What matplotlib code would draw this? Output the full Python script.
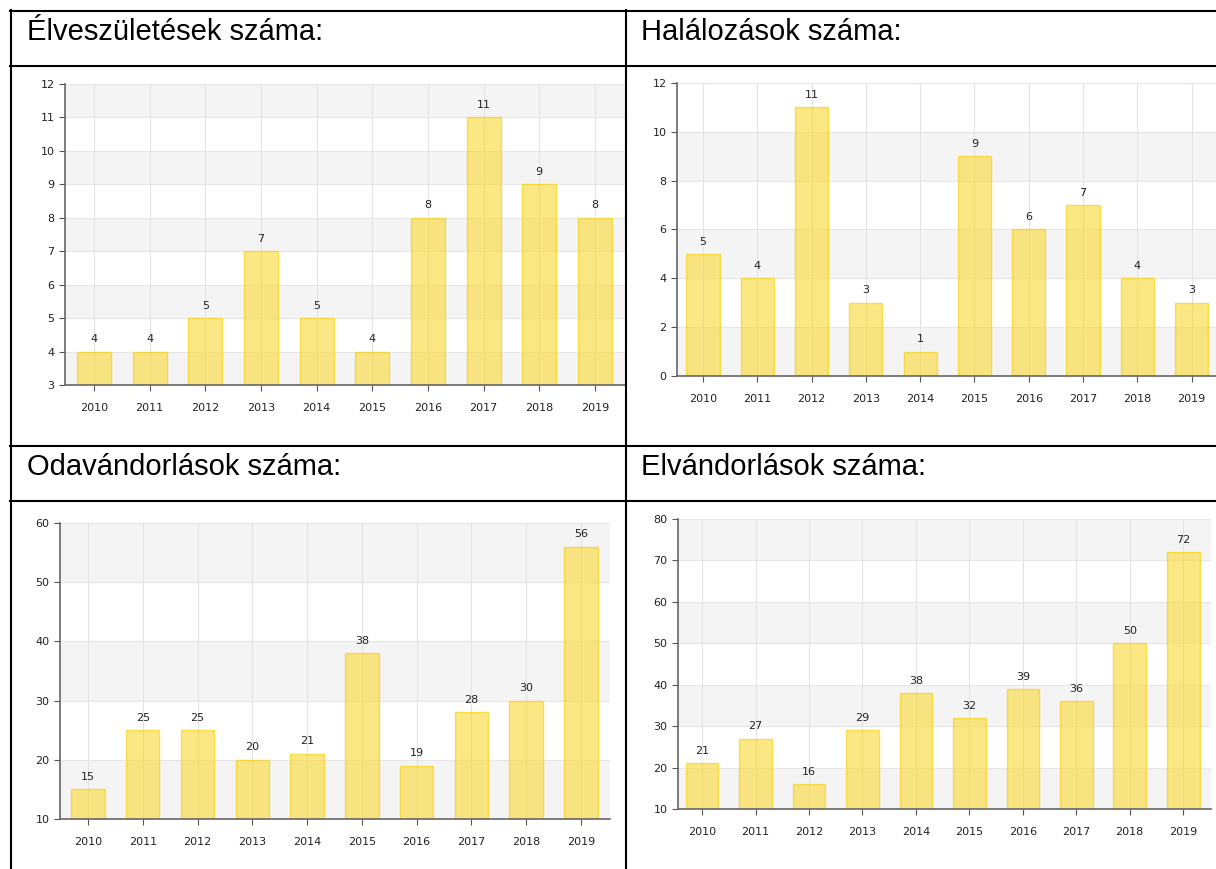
import matplotlib.pyplot as plt
from matplotlib.lines import Line2D

years = ['2010', '2011', '2012', '2013', '2014', '2015', '2016', '2017', '2018', '2019']

births = [4, 4, 5, 7, 5, 4, 8, 11, 9, 8]
deaths = [5, 4, 11, 3, 1, 9, 6, 7, 4, 3]
moved_in = [15, 25, 25, 20, 21, 38, 19, 28, 30, 56]
moved_out = [21, 27, 16, 29, 38, 32, 39, 36, 50, 72]

titles = ['Élveszületések száma:', 'Halálozások száma:',
          'Odavándorlások száma:', 'Elvándorlások száma:']

W, H = 1216, 869
fig = plt.figure(figsize=(W / 100, H / 100), dpi=100)


def px_axes(x0, y0, x1, y1):
    # pixel box (top-left origin) -> figure axes
    return fig.add_axes([x0 / W, 1 - y1 / H, (x1 - x0) / W, (y1 - y0) / H])


def bar_chart(ax, values, ymin, ymax, step, xlim):
    n = len(values)
    # alternating grey bands
    y = ymin
    k = 0
    while y < ymax:
        if k % 2 == 0:
            ax.axhspan(y, y + step, color='#f4f4f4', zorder=0, lw=0)
        ax.axhline(y + step, color='#e6e6e6', lw=0.8, zorder=0.5)
        y += step
        k += 1
    for i in range(n):
        ax.axvline(i, color='#e3e3e3', lw=0.8, zorder=0.6)
    ax.bar(range(n), [v - ymin for v in values], bottom=ymin, width=0.61,
           color='#fbd93a', alpha=0.62, edgecolor='#f6cf00', linewidth=1.0, zorder=2)
    for i, v in enumerate(values):
        ax.text(i, v + (ymax - ymin) * 0.025, str(v), ha='center', va='bottom',
                fontsize=8, color='#222222', family='DejaVu Sans')
    ax.set_xlim(*xlim)
    ax.set_ylim(ymin, ymax)
    ax.set_xticks(range(n))
    ax.set_xticklabels(years)
    ticks = list(range(ymin, ymax + 1, step))
    ax.set_yticks(ticks)
    ax.tick_params(axis='both', labelsize=8, colors='#555555', labelcolor='#222222',
                   length=4, width=0.8)
    ax.tick_params(axis='x', pad=9)
    for side in ['top', 'right']:
        ax.spines[side].set_visible(False)
    for side in ['left', 'bottom']:
        ax.spines[side].set_color('#666666')
        ax.spines[side].set_linewidth(1.2)
    ax.set_facecolor('white')


ax1 = px_axes(65, 84, 625, 385)
bar_chart(ax1, births, 3, 12, 1, (-0.52, 9.54))

ax2 = px_axes(677, 83, 1216, 376)
bar_chart(ax2, deaths, 0, 12, 2, (-0.48, 9.45))

ax3 = px_axes(60, 523, 610, 819)
bar_chart(ax3, moved_in, 10, 60, 10, (-0.51, 9.53))

ax4 = px_axes(678, 519, 1211, 809)
bar_chart(ax4, moved_out, 10, 80, 10, (-0.45, 9.52))

# table frame
def hline(y, x0=10, x1=W, lw=1.5):
    fig.add_artist(Line2D([x0 / W, x1 / W], [1 - y / H, 1 - y / H], color='black', lw=lw))


def vline(x, y0=10, y1=H, lw=1.5):
    fig.add_artist(Line2D([x / W, x / W], [1 - y0 / H, 1 - y1 / H], color='black', lw=lw))


hline(10.5)
hline(66)
hline(446)
hline(501)
vline(10.5)
vline(626)

header_pos = [(27, 32), (641, 32), (27, 467), (641, 467)]
for t, (x, y) in zip(titles, header_pos):
    fig.text(x / W, 1 - y / H, t, fontsize=21, family='Liberation Sans',
             ha='left', va='center', color='black')

fig.savefig('out.png', dpi=100)
